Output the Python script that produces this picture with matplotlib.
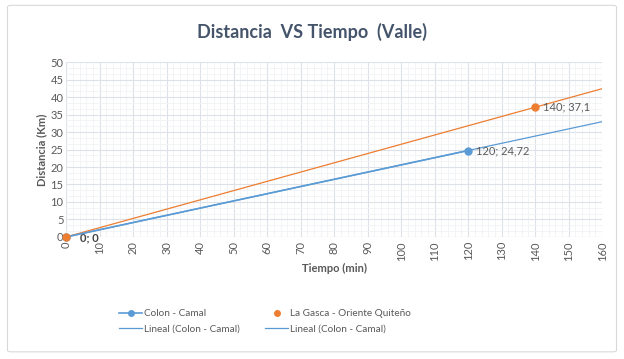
import numpy as np
import matplotlib.pyplot as plt
from matplotlib.patches import FancyBboxPatch
from matplotlib.lines import Line2D

# datos (min, km)
colon_t = [0, 120]
colon_d = [0, 24.72]
gasca_t = [0, 140]
gasca_d = [0, 37.1]
trend_end = 160

blue = '#5B9BD5'
orange = '#ED7D31'
gray = '#595959'
plt.rcParams['font.family'] = ['Lato', 'DejaVu Sans']

fig = plt.figure(figsize=(6.24, 3.59), dpi=100)
frame = FancyBboxPatch((0.012, 0.02), 0.976, 0.965, boxstyle='round,pad=0,rounding_size=0.005',
                       transform=fig.transFigure, fc='white', ec='#D9D9D9', lw=0.8, zorder=-1)
fig.patches.append(frame)
ax = fig.add_axes([0.106, 0.340, 0.859, 0.487])
ax.set_facecolor('none')

# lineas de tendencia
tx = np.array([0, trend_end])
pc = np.polyfit(colon_t, colon_d, 1)
pg = np.polyfit(gasca_t, gasca_d, 1)
ax.plot(tx, np.polyval(pc, tx), color=blue, lw=0.9, zorder=3)
ax.plot(tx, np.polyval(pg, tx), color=orange, lw=0.9, zorder=3)

ax.plot(colon_t, colon_d, color=blue, lw=1.2, marker='o', ms=5, zorder=4, clip_on=False)
ax.plot(gasca_t, gasca_d, ls='none', color=orange, marker='o', ms=5, zorder=5, clip_on=False)

for t, d in zip(colon_t, colon_d):
    if t > 0:
        ax.annotate(f'{t}; {d:g}'.replace('.', ','), (t, d), xytext=(6, 0), textcoords='offset points',
                    va='center', fontsize=8, color=gray)
for t, d in zip(gasca_t, gasca_d):
    if t > 0:
        ax.annotate(f'{t}; {d:g}'.replace('.', ','), (t, d), xytext=(6, 0), textcoords='offset points',
                    va='center', fontsize=8, color=gray)
ax.annotate('0; 0', (0, 0), xytext=(10, -1), textcoords='offset points', va='center',
            fontsize=8, color='#404040', fontweight='bold')

ax.set_xlim(0, 160)
ax.set_ylim(0, 50)
ax.set_xticks(np.arange(0, 161, 10))
ax.set_yticks(np.arange(0, 51, 5))
ax.set_xticks(np.arange(0, 161, 2), minor=True)
ax.set_yticks(np.arange(0, 50.01, 5 / 3), minor=True)
ax.grid(which='major', color='#DDE2E8', lw=0.8)
ax.grid(which='minor', color='#F0F2F5', lw=0.6)
ax.set_axisbelow(True)
for s in ax.spines.values():
    s.set_visible(False)
ax.axhline(0, color='#D9D9D9', lw=0.8, zorder=1)
ax.tick_params(which='both', length=0)
ax.tick_params(axis='x', labelrotation=90, labelsize=8, labelcolor=gray, pad=3)
ax.tick_params(axis='y', labelsize=8, labelcolor=gray, pad=2)

ax.set_xlabel('Tiempo (min)', fontsize=8, fontweight='bold', color=gray, labelpad=2)
ax.set_ylabel('Distancia (Km)', fontsize=8, fontweight='bold', color=gray, labelpad=2)
fig.text(0.5, 0.91, 'Distancia  VS Tiempo  (Valle)', ha='center', va='center',
         fontsize=13, fontweight='bold', color='#44546A')

handles = [Line2D([], [], color=blue, lw=1.2, marker='o', ms=4),
           Line2D([], [], color=blue, lw=0.9),
           Line2D([], [], color=orange, ls='none', marker='o', ms=4),
           Line2D([], [], color=blue, lw=0.9)]
labels = ['Colon - Camal', 'Lineal (Colon - Camal)', 'La Gasca - Oriente Quiteño', 'Lineal (Colon - Camal)']
fig.legend(handles, labels, ncol=2, loc='center', bbox_to_anchor=(0.425, 0.105), frameon=False,
           fontsize=7.2, labelcolor=gray, handlelength=2.3, columnspacing=2.5, handletextpad=0.2,
           labelspacing=0.6)

fig.savefig('out.png', dpi=100)
